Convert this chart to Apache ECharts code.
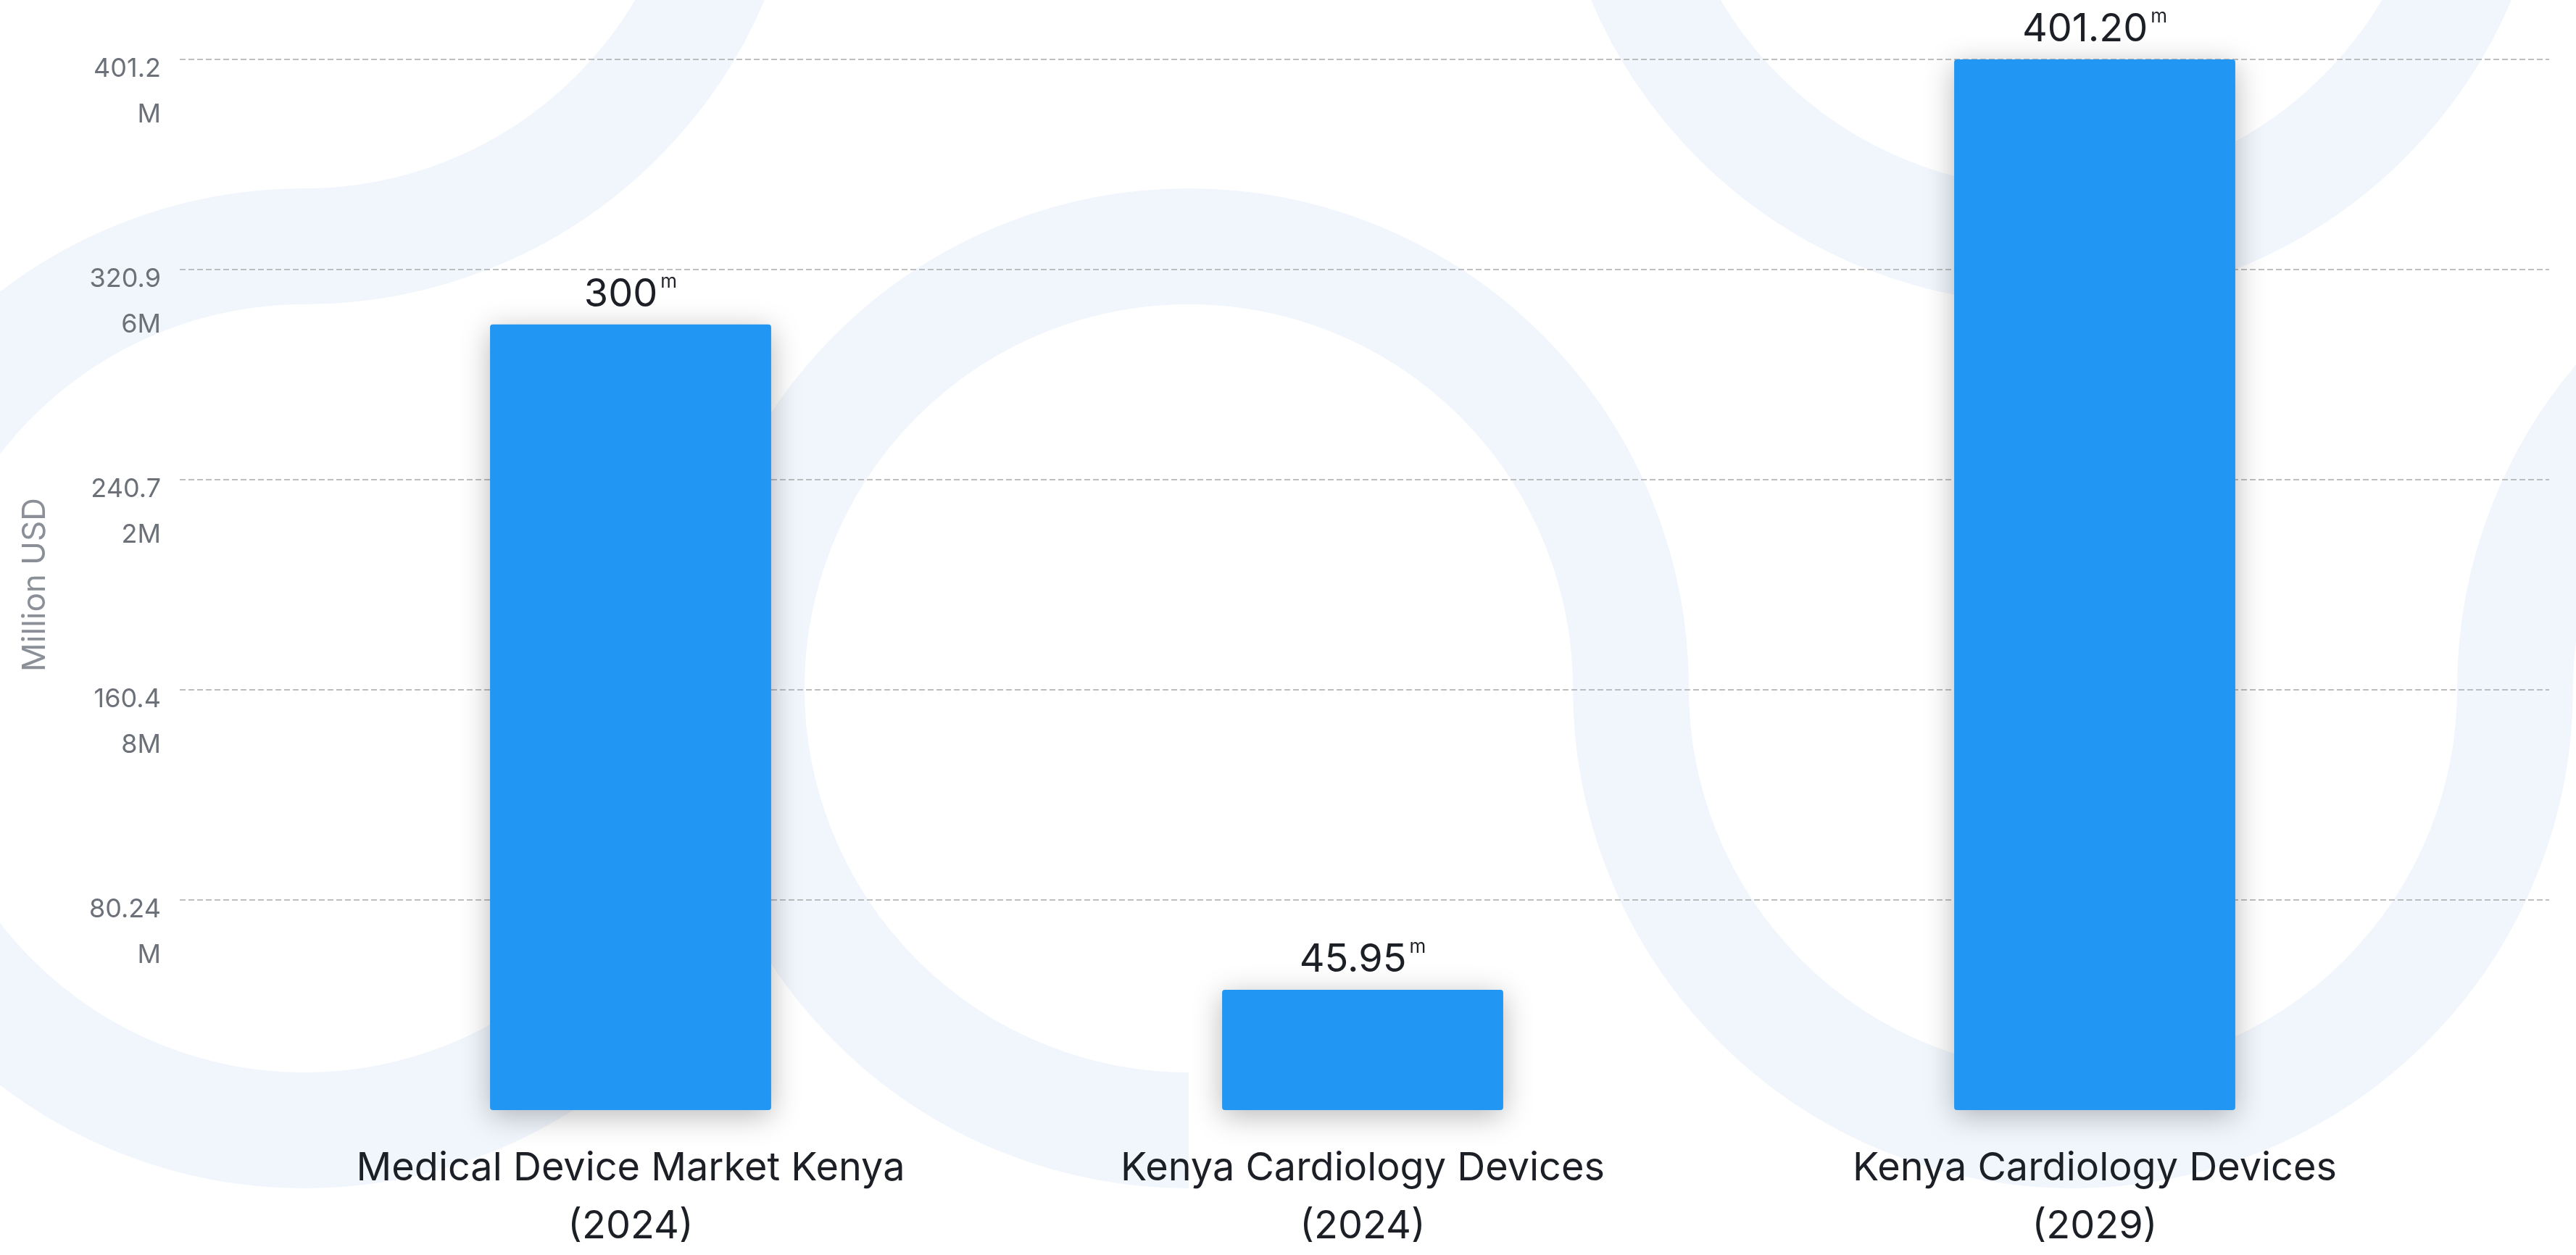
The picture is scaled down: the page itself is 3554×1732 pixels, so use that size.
<!DOCTYPE html>
<html>
<head>
<meta charset="utf-8">
<script src="https://cdn.jsdelivr.net/npm/echarts@6/dist/echarts.min.js"></script>
<style>
html,body{margin:0;padding:0;background:#ffffff;}
#chart{width:3554px;height:1732px;}
</style>
</head>
<body>
<div id="chart"></div>
<script>
// ---- data ----
const categories = [
  'Medical Device Market Kenya (2024)',
  'Kenya Cardiology Devices (2024)',
  'Kenya Cardiology Devices (2029)'
];
const values = [300, 45.95, 401.2];
const valueLabels = ['300', '45.95', '401.20'];
const axisMin = 0;
const axisMax = 401.2;
const axisInterval = 80.24;
const yAxisTitle = 'Million USD';
const unitSuffix = 'M';
const barUnit = 'm';

// ---- chart ----
const chart = echarts.init(document.getElementById('chart'), null, {renderer: 'canvas'});
const bgColor = '#f1f6fd';
const bandW = 160;
const PI = Math.PI;

function arc(cx, cy, r, a0, a1) {
  return {
    type: 'arc', z: -100, silent: true,
    shape: {cx: cx, cy: cy, r: r, startAngle: a0, endAngle: a1, clockwise: true},
    style: {stroke: bgColor, lineWidth: bandW, fill: null}
  };
}

const option = {
  backgroundColor: '#ffffff',
  animation: false,
  graphic: [
    arc(420, -270, 610, 0, PI / 2),
    arc(420, 950, 610, 0, PI * 1.5),
    arc(1640, 950, 610, PI / 2, PI * 2),
    arc(2860, 950, 610, 0, PI),
    arc(4080, 950, 610, PI, PI * 2),
    arc(2830, -270, 610, 0, PI)
  ],
  grid: [
    {left: 248, right: 37, top: 82, bottom: 200, outerBoundsMode: 'none', containLabel: false},
    {left: 365, right: 159, top: 82, bottom: 200, outerBoundsMode: 'none', containLabel: false}
  ],
  xAxis: [
    {gridIndex: 0, type: 'category', data: categories, show: false},
    {
      gridIndex: 1, type: 'category', data: categories,
      axisLine: {show: false}, axisTick: {show: false},
      axisLabel: {
        margin: 41, fontSize: 54, lineHeight: 80, color: '#1c1f26',
        fontFamily: 'Inter', interval: 0,
        formatter: function (s) { return s.replace(' (', '\n('); }
      }
    }
  ],
  yAxis: [
    {
      gridIndex: 0, type: 'value', min: axisMin, max: axisMax, interval: axisInterval,
      name: yAxisTitle, nameLocation: 'middle', nameRotate: 90, nameGap: 177,
      nameTextStyle: {fontSize: 44, color: '#8a8f98', fontFamily: 'Inter'},
      axisLine: {show: false}, axisTick: {show: false},
      splitLine: {show: true, showMinLine: false, lineStyle: {color: '#aaaaaa', width: 1.5, type: [8, 4]}},
      axisLabel: {
        margin: 26, color: '#6b7079', fontFamily: 'Inter', fontSize: 36,
        verticalAlign: 'top',
        formatter: function (v) {
          if (v === 0) return '';
          const s = String(+v.toFixed(2)) + unitSuffix;
          return '{a|' + s.slice(0, 5) + '}\n{b|' + s.slice(5) + '}';
        },
        rich: {
          a: {fontSize: 36, color: '#6b7079', fontFamily: 'Inter', lineHeight: 26, align: 'right'},
          b: {fontSize: 36, color: '#6b7079', fontFamily: 'Inter', lineHeight: 100, align: 'right'}
        }
      }
    },
    {
      gridIndex: 1, type: 'value', min: axisMin, max: axisMax, interval: axisInterval,
      show: false, splitLine: {show: false}
    }
  ],
  series: [{
    type: 'bar',
    xAxisIndex: 1, yAxisIndex: 1,
    data: values,
    barWidth: '38.4%',
    itemStyle: {
      color: '#2196F3', borderRadius: 4,
      shadowBlur: 40, shadowColor: 'rgba(0,0,0,0.28)', shadowOffsetY: 8
    },
    label: {
      show: true, position: 'top', distance: 10,
      formatter: function (p) { return '{v|' + valueLabels[p.dataIndex] + '}{s|' + barUnit + '}'; },
      rich: {
        v: {fontSize: 54, color: '#1c1f26', fontFamily: 'Inter', lineHeight: 62},
        s: {fontSize: 26, color: '#1c1f26', fontFamily: 'Inter', verticalAlign: 'top', padding: [0, 0, 0, 4]}
      }
    }
  }]
};
chart.setOption(option);
</script>
</body>
</html>
